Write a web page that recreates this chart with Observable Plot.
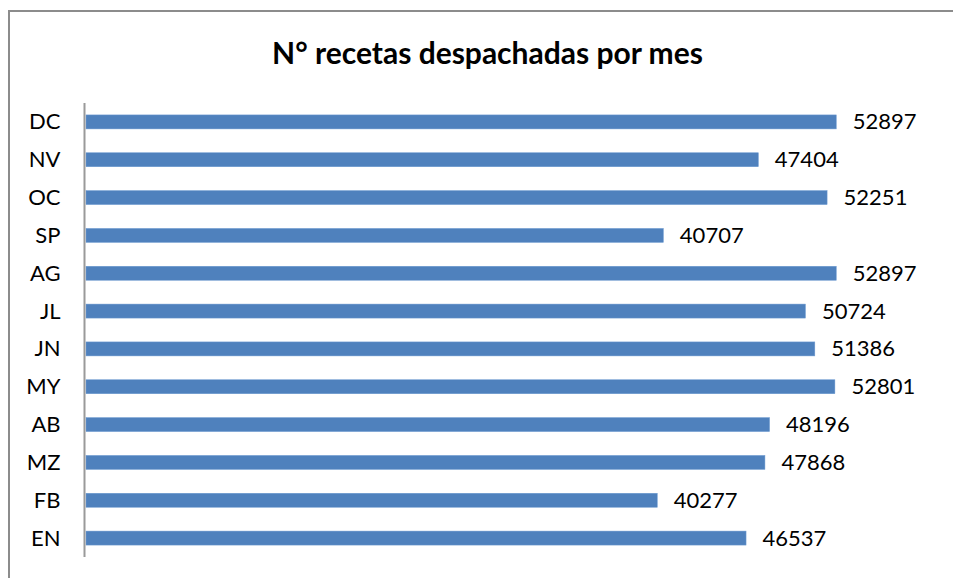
<!DOCTYPE html>
<html>
<head>
<meta charset="utf-8">
<script src="https://cdn.jsdelivr.net/npm/d3@7"></script>
<script src="https://cdn.jsdelivr.net/npm/@observablehq/plot@0.6"></script>
<style>
  html, body { margin: 0; padding: 0; background: #fff; overflow: hidden; }
  #wrap { position: relative; width: 953px; height: 578px; overflow: hidden; }
  #frame { position: absolute; left: 8px; top: 10px; width: 1200px; height: 800px;
           border-top: 2px solid #8c8c8c; border-left: 2px solid #8c8c8c; }
  #title { position: absolute; left: 0; top: 34px; width: 975px; text-align: center;
           font-family: Lato, "Open Sans", sans-serif; font-weight: bold; font-size: 30px;
           color: #000; margin: 0; line-height: 36px; }
  #chart { position: absolute; left: 0; top: 80px; }
</style>
</head>
<body>
<div id="wrap">
  <div id="frame"></div>
  <h2 id="title">N° recetas despachadas por mes</h2>
  <div id="chart"></div>
</div>
<script>
const months = ["DC", "NV", "OC", "SP", "AG", "JL", "JN", "MY", "AB", "MZ", "FB", "EN"];
const values = [52897, 47404, 52251, 40707, 52897, 50724, 51386, 52801, 48196, 47868, 40277, 46537];

const data = months.map((m, i) => ({month: m, value: values[i]}));

const chart = Plot.plot({
  width: 953,
  height: 498,
  marginLeft: 86,
  marginRight: 16,
  marginTop: 23,
  marginBottom: 21,
  style: {fontFamily: "Lato, 'Open Sans', sans-serif", fontSize: "22px", color: "#000", background: "transparent"},
  x: {domain: [0, 60000], axis: null},
  y: {domain: months, paddingInner: 0.63, paddingOuter: 0.315, round: false, label: null, tickSize: 0, tickPadding: 26},
  marks: [
    Plot.barX(data, {x: "value", y: "month", fill: "#4f81bd", stroke: "#6f9bd1", strokeWidth: 0.5}),
    Plot.ruleX([0], {stroke: "#9a9a9a", strokeWidth: 2, dx: -2}),
    Plot.text(data, {x: "value", y: "month", text: d => String(d.value), textAnchor: "start", dx: 16, fill: "#000", fontSize: 22})
  ]
});
document.getElementById("chart").appendChild(chart);
</script>
</body>
</html>
